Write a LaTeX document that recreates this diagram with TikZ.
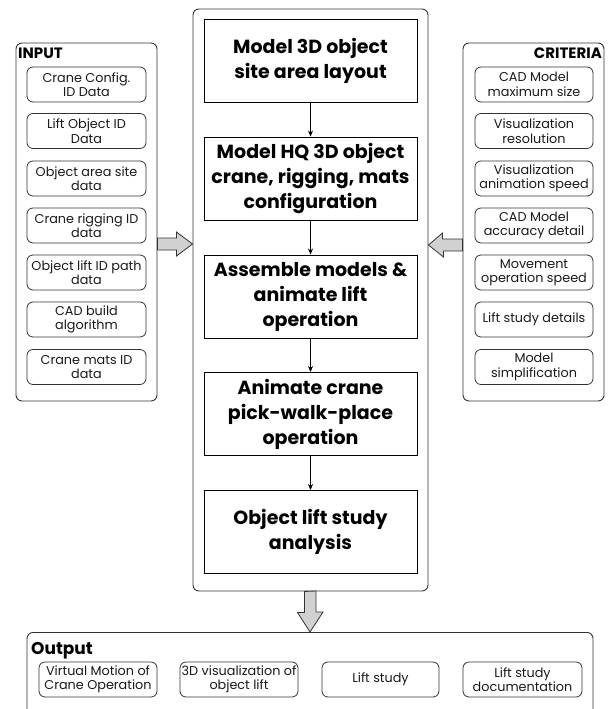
\documentclass[tikz,border=0pt]{standalone}
\usepackage{fontspec}
\setmainfont{Poppins}
\usetikzlibrary{arrows.meta,calc}

\tikzset{
  frame/.style={draw=black!80, line width=0.9pt, rounded corners=6pt},
  stage/.style={draw=black, line width=0.9pt, minimum width=213pt, minimum height=83pt,
    align=center, font=\fontsize{19}{25}\selectfont\bfseries, inner sep=1pt},
  item/.style={draw=black!80, line width=0.8pt, rounded corners=6pt, minimum height=35pt,
    align=center, font=\fontsize{12.8}{14.5}\selectfont, inner sep=0.5pt, text=black!90},
  flow/.style={-{Stealth[length=6pt,width=5pt]}, line width=0.7pt},
  blockarrow/.style={draw=black!80, line width=0.8pt, fill=black!18, line join=miter},
  heading/.style={font=\fontsize{15}{17}\selectfont\bfseries, inner sep=0pt}
}

\begin{document}
\begin{tikzpicture}[x=1pt,y=-1pt]
\useasboundingbox (0,0) rectangle (608,709);

% central process column
\node[frame, minimum width=235pt, minimum height=582pt] (cont) at (310.5,300) {};
\node[stage] (s1) at (310.5,60.5) {Model 3D object\\site area layout};
\node[stage] (s2) at (310.5,178.5) {Model HQ 3D object\\crane, rigging, mats\\configuration};
\node[stage] (s3) at (310.5,296.5) {Assemble models \&\\animate lift\\operation};
\node[stage] (s4) at (310.5,414) {Animate crane\\pick-walk-place\\operation};
\node[stage] (s5) at (310.5,532) {Object lift study\\analysis};
\draw[flow] (s1) -- (s2);
\draw[flow] (s2) -- (s3);
\draw[flow] (s3) -- (s4);
\draw[flow] (s4) -- (s5);

% input column
\node[frame, minimum width=141pt, minimum height=358pt] (inp) at (86.5,222) {};
\node[heading, anchor=north west] (inptitle) at (18,48) {INPUT};
\node[item, minimum width=119pt] (i1) at (86.5,84.5) {Crane Config.\\ID Data};
\node[item, minimum width=119pt] (i2) at (86.5,131) {Lift Object ID\\Data};
\node[item, minimum width=119pt] (i3) at (86.5,178.5) {Object area site\\data};
\node[item, minimum width=119pt] (i4) at (86.5,225.5) {Crane rigging ID\\data};
\node[item, minimum width=119pt] (i5) at (86.5,272.5) {Object lift ID path\\data};
\node[item, minimum width=119pt] (i6) at (86.5,319.5) {CAD build\\algorithm};
\node[item, minimum width=119pt] (i7) at (86.5,367) {Crane mats ID\\data};

% criteria column
\node[frame, minimum width=141pt, minimum height=358pt] (crit) at (533.5,222) {};
\node[heading, anchor=north east] (crittitle) at (602,48) {CRITERIA};
\node[item, minimum width=118pt] (c1) at (534,84.5) {CAD Model\\maximum size};
\node[item, minimum width=118pt] (c2) at (534,131) {Visualization\\resolution};
\node[item, minimum width=118pt] (c3) at (534,178.5) {Visualization\\animation speed};
\node[item, minimum width=118pt] (c4) at (534,225.5) {CAD Model\\accuracy detail};
\node[item, minimum width=118pt] (c5) at (534,272.5) {Movement\\operation speed};
\node[item, minimum width=118pt] (c6) at (534,319.5) {Lift study details};
\node[item, minimum width=118pt] (c7) at (534,367) {Model\\simplification};

% output row
\node[frame, minimum width=566pt, minimum height=120pt, anchor=north] (out) at (310,632) {};
\node[font=\fontsize{17}{19}\selectfont\bfseries, inner sep=0pt, anchor=base west] (outtitle) at (31,654) {Output};
\node[item, minimum width=118pt] (o1) at (98,679.5) {Virtual Motion of\\Crane Operation};
\node[item, minimum width=118pt] (o2) at (239,679.5) {3D visualization of\\object lift};
\node[item, minimum width=117pt] (o3) at (380.5,679.5) {Lift study};
\node[item, minimum width=119pt] (o4) at (522.5,679.5) {Lift study\\documentation};

% block arrows feeding the process and leading to the output
\draw[blockarrow] (inp.east |- 0,238) -- ++(19,0) -- ++(0,-6) -- (cont.west |- 0,244)
  -- ++(-16,12) -- ++(0,-6) -- (inp.east |- 0,250) -- cycle;
\draw[blockarrow] (crit.west |- 0,239) -- ++(-20,0) -- ++(0,-6) -- (cont.east |- 0,245)
  -- ++(15,12) -- ++(0,-6) -- (crit.west |- 0,251) -- cycle;
\draw[blockarrow] ($(cont.south)+(-6,0)$) -- ++(0,21) -- ++(-7,0) -- (out.north)
  -- ++(13,-20) -- ++(-7,0) -- ++(0,-21) -- cycle;
\end{tikzpicture}
\end{document}
